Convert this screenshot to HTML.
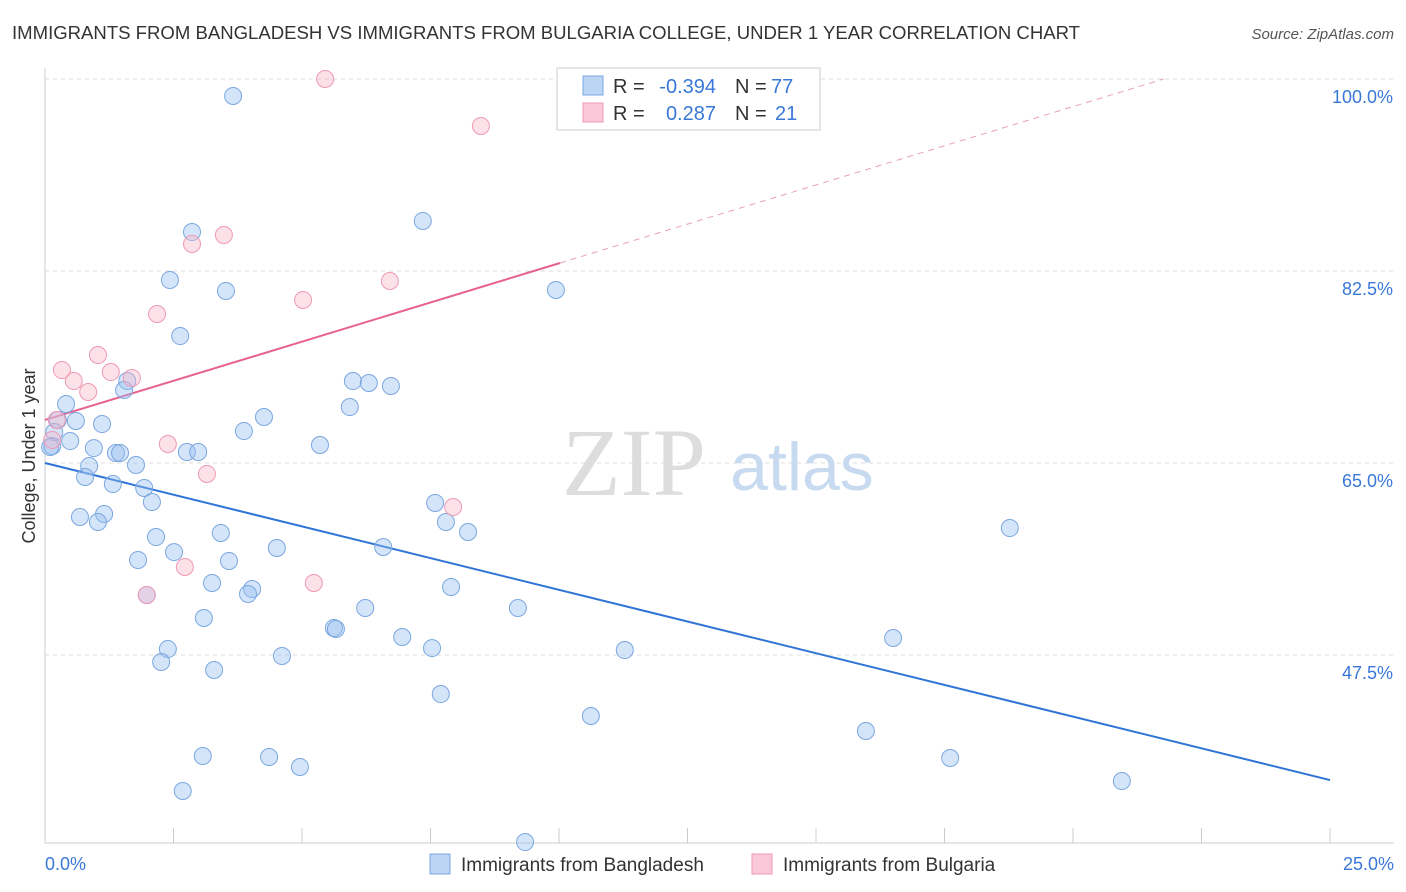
<!DOCTYPE html>
<html><head><meta charset="utf-8"><style>
body{margin:0;background:#fff;font-family:"Liberation Sans",sans-serif;}
svg{display:block}
</style></head><body>
<svg id="chart" width="1406" height="892">
<text x="12" y="39" font-size="18" fill="#333" textLength="1068" lengthAdjust="spacingAndGlyphs">IMMIGRANTS FROM BANGLADESH VS IMMIGRANTS FROM BULGARIA COLLEGE, UNDER 1 YEAR CORRELATION CHART</text>
<text x="1394" y="39" font-size="15" fill="#555" font-style="italic" text-anchor="end">Source: ZipAtlas.com</text>
<text x="35" y="456" font-size="18" fill="#333" text-anchor="middle" transform="rotate(-90 35 456)">College, Under 1 year</text>
<g id="grid"></g>
<g id="xticks"></g>
<text x="634" y="495" font-size="96" fill="#ddd" font-family="Liberation Serif,serif" text-anchor="middle">ZIP</text>
<text x="802" y="490" font-size="68" fill="#c8daf0" text-anchor="middle">atlas</text>
<g id="lines"></g>
<g id="pts"></g>
<g font-size="20">
<rect x="557" y="68" width="263" height="62" fill="#fff" stroke="#ccc"/>
<rect x="583" y="76" width="20" height="19" fill="#bcd5f5" stroke="#7aa7e0"/>
<rect x="583" y="103" width="20" height="19" fill="#fac8d8" stroke="#ee9ab5"/>
<text x="613" y="93" fill="#333">R =</text>
<text x="716" y="93" fill="#3a78d8" text-anchor="end">-0.394</text>
<text x="735" y="93" fill="#333">N =</text>
<text x="771" y="93" fill="#3a78d8">77</text>
<text x="613" y="120" fill="#333">R =</text>
<text x="716" y="120" fill="#3a78d8" text-anchor="end">0.287</text>
<text x="735" y="120" fill="#333">N =</text>
<text x="775" y="120" fill="#3a78d8">21</text>
</g>
<g>
<rect x="430" y="854" width="20" height="20" fill="#bcd5f5" stroke="#7aa7e0"/>
<text x="461" y="871" font-size="19" fill="#333">Immigrants from Bangladesh</text>
<rect x="752" y="854" width="20" height="20" fill="#fac8d8" stroke="#ee9ab5"/>
<text x="783" y="871" font-size="19" fill="#333">Immigrants from Bulgaria</text>
</g>
</svg>
<script>
const yTicks=[100,82.5,65,47.5];
const yTickLabels=["100.0%","82.5%","65.0%","47.5%"];
const xTickLabels=["0.0%","25.0%"];
const blueX=[3.66,2.86,7.35,2.43,3.52,9.94,2.63,1.6,1.54,5.99,6.30,6.73,5.93,4.26,3.87,0.41,0.25,0.6,1.11,0.18,0.49,0.14,0.1,0.95,1.38,1.46,2.76,2.98,5.35,1.77,0.86,0.78,1.32,1.93,2.08,7.59,0.68,1.15,1.03,7.8,8.23,18.77,2.16,3.42,6.58,4.51,2.51,1.81,3.58,3.25,4.03,3.95,1.98,7.9,6.23,9.2,3.09,5.62,5.66,6.95,16.5,2.39,7.53,11.28,4.61,2.26,3.29,7.7,10.62,15.97,3.07,4.36,17.61,4.96,20.95,2.68,9.34];
const blueY=[98.45,86.05,87.06,81.68,80.68,80.77,76.57,72.47,71.65,72.47,72.29,72.02,70.1,69.19,67.91,70.38,68.92,68.83,68.55,67.82,67.0,66.55,66.46,66.36,65.91,65.91,66.0,66.0,66.64,64.82,64.72,63.72,63.08,62.72,61.44,61.35,60.08,60.35,59.62,59.62,58.71,59.07,58.25,58.62,57.34,57.25,56.88,56.16,56.07,54.06,53.51,53.06,52.97,53.7,51.78,51.78,50.87,49.96,49.87,49.14,49.05,48.04,48.13,47.95,47.41,46.86,46.13,43.94,41.94,40.57,38.29,38.2,38.11,37.29,36.01,35.1,30.45];
const pinkX=[5.45,8.48,3.48,2.86,6.71,5.02,2.18,1.03,0.33,1.28,0.56,1.69,0.84,0.23,2.39,3.15,7.94,2.72,5.23,1.98,0.14];
const pinkY=[100,95.72,85.78,84.96,81.59,79.86,78.58,74.84,73.48,73.29,72.47,72.75,71.47,68.92,66.73,64.0,60.99,55.52,54.06,52.97,67.1];
const blueTrend=[65.0,36.1];
const pinkTrend=[68.92,83.23];
const pinkSolidEnd=10.02;

const X0=45,X1=1330;
const sx=v=>X0+(v/25)*(X1-X0);
const sy=v=>79+(100-v)*10.971;
const NS="http://www.w3.org/2000/svg";
function mk(tag,attrs,parent){const e=document.createElementNS(NS,tag);for(const k in attrs)e.setAttribute(k,attrs[k]);parent.appendChild(e);return e;}
const grid=document.getElementById('grid');
yTicks.forEach((t,i)=>{
 const l=mk('line',{x1:X0,x2:1394,y1:sy(t),y2:sy(t),stroke:'#ddd','stroke-dasharray':'4,4'},grid);
 
 
 const tx=mk('text',{x:1393,y:sy(t)+24,'font-size':18,fill:'#3a78d8','text-anchor':'end'},grid);
 tx.textContent=yTickLabels[i];
 
 
});
const xt=document.getElementById('xticks');
mk('line',{x1:X0,x2:X0,y1:68,y2:843,stroke:'#ccc'},xt);
mk('line',{x1:X0,x2:1394,y1:843,y2:843,stroke:'#ccc'},xt);
for(let i=1;i<=10;i++){const x=sx(i*2.5);mk('line',{x1:x,x2:x,y1:828,y2:843,stroke:'#ccc'},xt);}
[[0,'start',45],[25,'end',1394]].forEach((a,i)=>{
 const t=mk('text',{x:a[2],y:870,'font-size':18,fill:'#3a78d8','text-anchor':a[1]},xt);
 t.textContent=xTickLabels[i];
 
 
});
const pts=document.getElementById('pts');
blueX.forEach((x,i)=>{
 const c=mk('circle',{cx:sx(x),cy:sy(blueY[i]),r:8.5,fill:'rgba(150,190,240,0.4)',stroke:'#7aa7e0','stroke-width':1},pts);
 
 
});
pinkX.forEach((x,i)=>{
 const c=mk('circle',{cx:sx(x),cy:sy(pinkY[i]),r:8.5,fill:'rgba(248,180,200,0.4)',stroke:'#ee9ab5','stroke-width':1},pts);
 
 
});
const ln=document.getElementById('lines');
const b=mk('line',{x1:sx(0),y1:sy(blueTrend[0]),x2:sx(25),y2:sy(blueTrend[1]),stroke:'#2f74d6','stroke-width':2},ln);


const slope=(pinkTrend[1]-pinkTrend[0])/pinkSolidEnd;
const p=mk('line',{x1:sx(0),y1:sy(pinkTrend[0]),x2:sx(pinkSolidEnd),y2:sy(pinkTrend[1]),stroke:'#e8628e','stroke-width':2},ln);


const xEnd=(100-pinkTrend[0])/slope;
const pd=mk('line',{x1:sx(pinkSolidEnd),y1:sy(pinkTrend[1]),x2:sx(xEnd),y2:sy(100),stroke:'#e8a0b8','stroke-width':1,'stroke-dasharray':'6,5'},ln);


</script>
</body></html>
